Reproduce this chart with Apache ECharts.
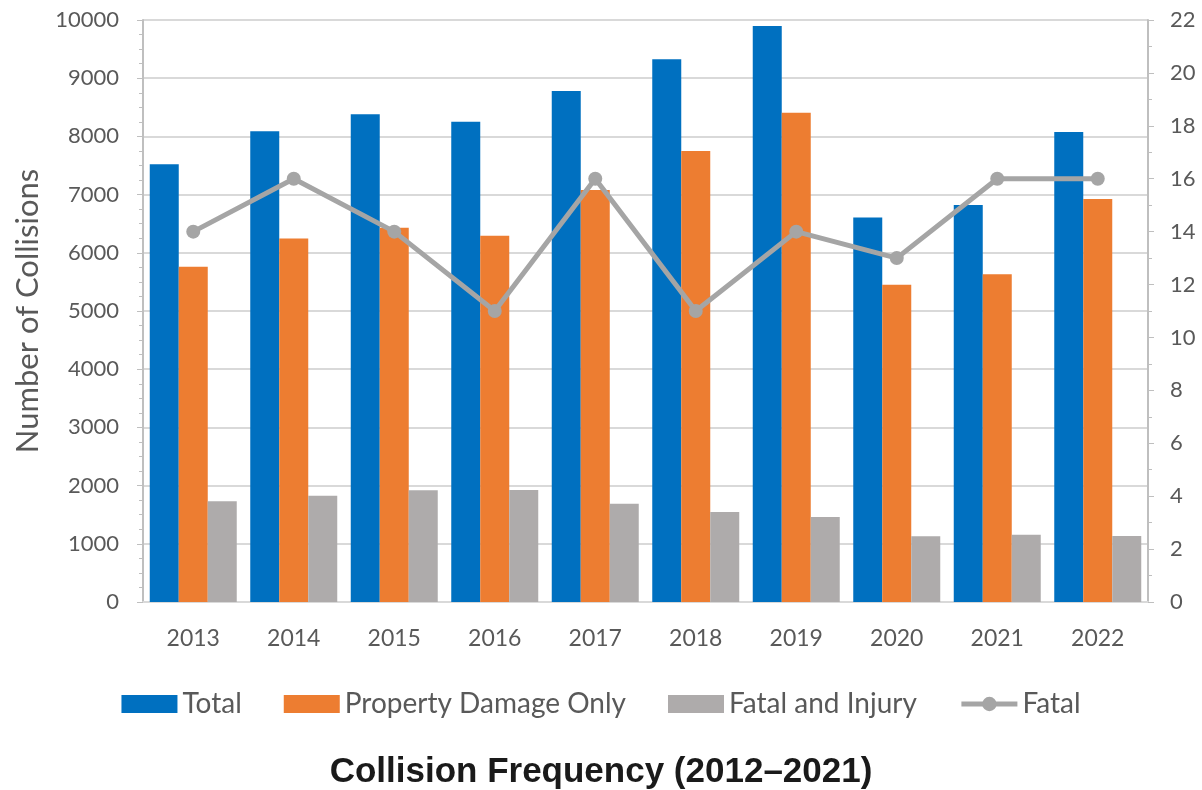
<!DOCTYPE html>
<html>
<head>
<meta charset="utf-8">
<script src="https://cdn.jsdelivr.net/npm/echarts@6/dist/echarts.min.js"></script>
<style>html,body{margin:0;padding:0;background:#fff}#c{width:1202px;height:790px}</style>
</head>
<body>
<div id="c"></div>
<script>
const years = ['2013','2014','2015','2016','2017','2018','2019','2020','2021','2022'];
const total = [7520, 8090, 8380, 8250, 8780, 9325, 9895, 6605, 6820, 8075];
const propertyDamage = [5760, 6245, 6430, 6295, 7080, 7750, 8405, 5450, 5630, 6925];
const fatalInjury = [1730, 1825, 1920, 1925, 1690, 1545, 1460, 1130, 1155, 1135];
const fatal = [14, 16, 14, 11, 16, 11, 14, 13, 16, 16];

const txt = '#595959';
const font = 'Lato, "Open Sans", sans-serif';
const chart = echarts.init(document.getElementById('c'));
chart.setOption({
  animation: false,
  backgroundColor: '#fff',
  textStyle: { fontFamily: font },
  grid: { left: 143, right: 54, top: 20, bottom: 188 },
  title: {
    text: 'Collision Frequency (2012–2021)',
    left: 'center', top: 750,
    textStyle: { fontFamily: '"Liberation Sans", Arial, sans-serif', fontWeight: 'bold', fontSize: 35, color: '#1a1a1a' }
  },
  legend: {
    top: 685, left: 'center',
    itemWidth: 56, itemHeight: 18, itemGap: 42,
    textStyle: { fontFamily: font, fontSize: 28, color: txt },
    data: [
      { name: 'Total', icon: 'rect' },
      { name: 'Property Damage Only', icon: 'rect' },
      { name: 'Fatal and Injury', icon: 'rect' },
      { name: 'Fatal', lineStyle: { width: 5 } }
    ]
  },
  xAxis: {
    type: 'category', data: years,
    axisLine: { lineStyle: { color: '#D9D9D9', width: 2 } },
    axisTick: { show: false },
    axisLabel: { fontFamily: font, fontSize: 23, color: txt, margin: 25 }
  },
  yAxis: [
    {
      type: 'value', min: 0, max: 10000, interval: 1000,
      name: 'Number of Collisions', nameLocation: 'middle', nameGap: 100,
      nameTextStyle: { fontFamily: font, fontSize: 31, color: txt },
      axisLine: { show: true, lineStyle: { color: '#BFBFBF', width: 2 } },
      axisTick: { show: true, length: 6, lineStyle: { color: '#BFBFBF' } },
      minorTick: { show: true, splitNumber: 4, length: 4, lineStyle: { color: '#BFBFBF' } },
      axisLabel: { fontFamily: font, fontSize: 22, color: txt, margin: 24, formatter: v => String(v) },
      splitLine: { lineStyle: { color: '#D9D9D9', width: 2 } }
    },
    {
      type: 'value', min: 0, max: 22, interval: 2, position: 'right',
      axisLine: { show: true, lineStyle: { color: '#BFBFBF', width: 2 } },
      axisTick: { show: true, length: 6, lineStyle: { color: '#BFBFBF' } },
      minorTick: { show: true, splitNumber: 2, length: 4, lineStyle: { color: '#BFBFBF' } },
      axisLabel: { fontFamily: font, fontSize: 22, color: txt, margin: 22 },
      splitLine: { show: false }
    }
  ],
  series: [
    { name: 'Total', type: 'bar', data: total, barWidth: 29, barGap: '0%', itemStyle: { color: '#0070C0' } },
    { name: 'Property Damage Only', type: 'bar', data: propertyDamage, barWidth: 29, barGap: '0%', itemStyle: { color: '#ED7D31' } },
    { name: 'Fatal and Injury', type: 'bar', data: fatalInjury, barWidth: 29, barGap: '0%', itemStyle: { color: '#AEABAB' } },
    { name: 'Fatal', type: 'line', yAxisIndex: 1, data: fatal, symbol: 'circle', symbolSize: 14,
      lineStyle: { color: '#A5A5A5', width: 5 }, itemStyle: { color: '#A5A5A5' } }
  ]
});
</script>
</body>
</html>
